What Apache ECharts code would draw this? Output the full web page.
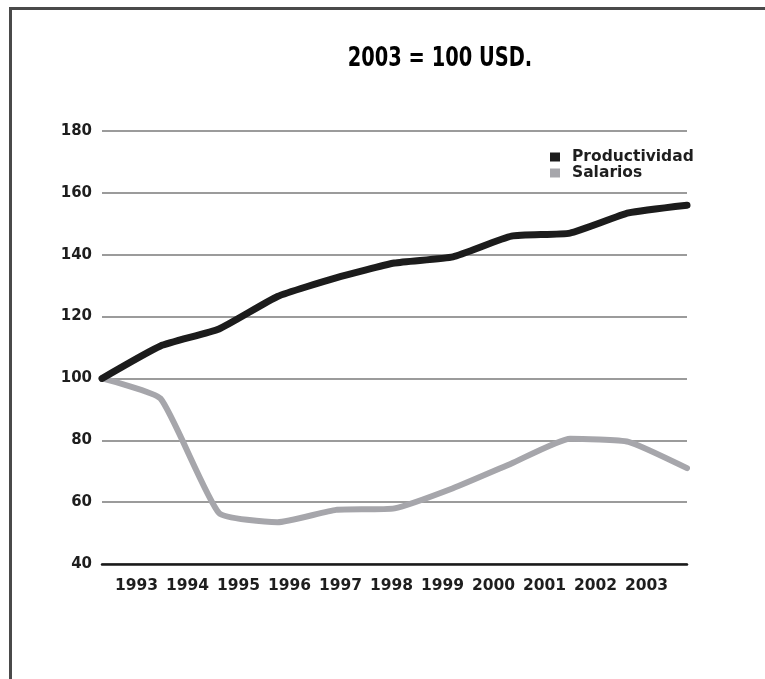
<!DOCTYPE html>
<html>
<head>
<meta charset="utf-8">
<script src="https://cdn.jsdelivr.net/npm/echarts@6/dist/echarts.min.js"></script>
<style>
  html, body { margin: 0; padding: 0; background: #fff; }
  #wrap { position: relative; width: 765px; height: 679px; }
  #chart { width: 765px; height: 679px; }
  #frame { position: absolute; left: 9px; top: 7px; right: 0; bottom: -5px;
           border-left: 3px solid #4a4a4a; border-top: 3px solid #4a4a4a; pointer-events: none; }
</style>
</head>
<body>
<div id="wrap">
  <div id="chart"></div>
  <div id="frame"></div>
</div>
<script>
const titleText = '2003 = 100 USD.';
const years = ['1993', '1994', '1995', '1996', '1997', '1998', '1999', '2000', '2001', '2002', '2003'];
const productividad = [100, 110.5, 116, 126.5, 132.5, 137.3, 139.3, 146, 147, 153.5, 156];
const salarios = [100, 93.5, 56.5, 53.5, 57.5, 58, 64.5, 72.5, 80.5, 79.5, 71];
const seriesNames = ['Productividad', 'Salarios'];
const yMin = 40, yMax = 180, yStep = 20;

const chart = echarts.init(document.getElementById('chart'), null, { renderer: 'canvas' });
const labelFont = { fontFamily: 'DejaVu Sans', fontWeight: 'bold', color: '#1e1e1e' };

chart.setOption({
  animation: false,
  backgroundColor: 'transparent',
  graphic: [
    {
      type: 'text', x: 440, y: 46, scaleX: 0.83, silent: true,
      style: {
        text: titleText, textAlign: 'center', textVerticalAlign: 'top',
        font: 'bold 26px "DejaVu Sans Condensed", "DejaVu Sans", sans-serif', fill: '#000'
      }
    }
  ],
  legend: {
    orient: 'vertical',
    left: 545,
    top: 144,
    itemWidth: 10,
    itemHeight: 9,
    itemGap: 0,
    icon: 'rect',
    data: seriesNames,
    textStyle: Object.assign({ fontSize: 15.5, padding: [0, 0, 0, 7] }, labelFont)
  },
  grid: [
    { left: 102, right: 78, top: 131, bottom: 679 - 564 },
    { left: 111, right: 765 - 672, top: 131, bottom: 679 - 564 }
  ],
  xAxis: [
    {
      type: 'category', gridIndex: 0, data: years, boundaryGap: false,
      axisLine: { show: true, lineStyle: { color: '#1a1a1a', width: 2.5 } },
      axisTick: { show: false }, axisLabel: { show: false }, splitLine: { show: false }
    },
    {
      type: 'category', gridIndex: 1, data: years, boundaryGap: true,
      axisLine: { show: false }, axisTick: { show: false },
      axisLabel: Object.assign({ fontSize: 15.5, margin: 14, interval: 0 }, labelFont)
    }
  ],
  yAxis: [
    {
      type: 'value', gridIndex: 0, min: yMin, max: yMax, interval: yStep,
      axisLine: { show: false }, axisTick: { show: false },
      axisLabel: Object.assign({ fontSize: 15, margin: 10 }, labelFont),
      splitLine: { show: true, lineStyle: { color: '#7a7a7a', width: 1.5 } }
    },
    {
      type: 'value', gridIndex: 1, min: yMin, max: yMax, interval: yStep, show: false,
      splitLine: { show: false }
    }
  ],
  series: [
    {
      name: seriesNames[0], type: 'line', xAxisIndex: 0, yAxisIndex: 0,
      data: productividad, showSymbol: false, smooth: 0.15,
      itemStyle: { color: '#1c1c1c' },
      lineStyle: { color: '#1c1c1c', width: 7, cap: 'round', join: 'round' },
      z: 3
    },
    {
      name: seriesNames[1], type: 'line', xAxisIndex: 0, yAxisIndex: 0,
      data: salarios, showSymbol: false, smooth: 0.15,
      itemStyle: { color: '#a6a6ab' },
      lineStyle: { color: '#a6a6ab', width: 6, cap: 'round', join: 'round' },
      z: 2
    }
  ]
});
</script>
</body>
</html>
